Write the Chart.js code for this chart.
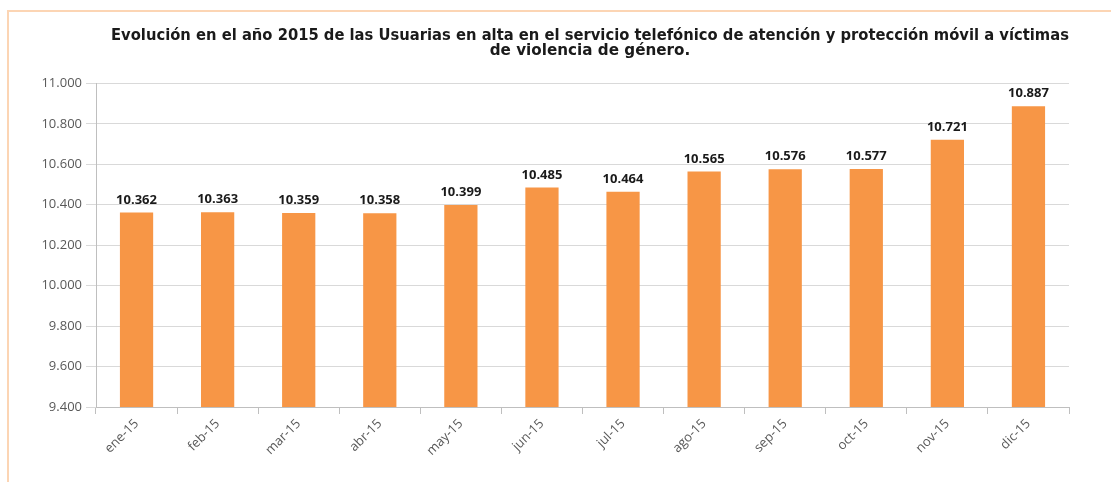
<!DOCTYPE html>
<html>
<head>
<meta charset="utf-8">
<script src="https://cdn.jsdelivr.net/npm/chart.js@4/dist/chart.umd.min.js"></script>
<style>
html,body{margin:0;padding:0;background:#fff;}
#wrap{position:relative;width:1111px;height:482px;overflow:hidden;}
#frame{position:absolute;left:7px;top:10px;width:1200px;height:600px;border-left:2px solid #fcd5b4;border-top:2px solid #fcd5b4;}
canvas{position:absolute;left:0;top:0;}
</style>
</head>
<body>
<div id="wrap">
<div id="frame"></div>
<canvas id="c" width="1111" height="482"></canvas>
</div>
<script>
const categories = ['ene-15','feb-15','mar-15','abr-15','may-15','jun-15','jul-15','ago-15','sep-15','oct-15','nov-15','dic-15'];
const usuarias = [10362,10363,10359,10358,10399,10485,10464,10565,10576,10577,10721,10887];
const titleLines = ['Evolución en el año 2015 de las Usuarias en alta en el servicio telefónico de atención y protección móvil a víctimas','de violencia de género.'];
const yMin = 9400, yMax = 11000, yStep = 200;

function fmt(v){
  const s = Math.round(v).toString();
  return s.replace(/\B(?=(\d{3})+(?!\d))/g, '.');
}

const FONT = "'Open Sans', 'DejaVu Sans', sans-serif";
const TITLE_FONT = "'DejaVu Sans', sans-serif";

const valueLabels = {
  id: 'valueLabels',
  afterLayout(chart){
    if (chart.titleBlock) { chart.titleBlock.left += 15; }
  },
  afterDatasetsDraw(chart){
    const ctx = chart.ctx;
    const meta = chart.getDatasetMeta(0);
    ctx.save();
    ctx.font = "bold 13px " + FONT;
    ctx.fillStyle = '#1a1a1a';
    ctx.textAlign = 'center';
    ctx.textBaseline = 'bottom';
    meta.data.forEach((bar, i) => {
      ctx.fillText(fmt(chart.data.datasets[0].data[i]), bar.x, bar.y - 6);
    });
    ctx.restore();
  }
};

new Chart(document.getElementById('c'), {
  type: 'bar',
  data: {
    labels: categories,
    datasets: [{
      data: usuarias,
      backgroundColor: '#f79646',
      borderWidth: 0,
      barPercentage: 0.41,
      categoryPercentage: 1.0
    }]
  },
  options: {
    responsive: false,
    animation: false,
    layout: { padding: { left: 0, right: 42, top: 0, bottom: 0 } },
    plugins: {
      legend: { display: false },
      tooltip: { enabled: false },
      title: {
        display: true,
        text: titleLines,
        fullSize: false,
        color: '#1a1a1a',
        font: { family: TITLE_FONT, size: 15.2, weight: 'bold', lineHeight: 1.0 },
        padding: { top: 28, bottom: 25 }
      }
    },
    scales: {
      x: {
        offset: true,
        grid: { display: true, drawOnChartArea: false, offset: true, tickLength: 7, color: '#bfbfbf' },
        border: { color: '#bfbfbf' },
        ticks: { color: '#595959', font: { family: FONT, size: 13 }, maxRotation: 45, minRotation: 45, padding: 2 },
        afterFit(scale){ scale.height = 75; }
      },
      y: {
        min: yMin, max: yMax,
        grid: { color: '#d9d9d9', tickLength: 10 },
        border: { color: '#bfbfbf' },
        ticks: { stepSize: yStep, color: '#595959', font: { family: FONT, size: 13 }, padding: 4, callback: v => fmt(v) },
        afterFit(scale){ scale.width = 96; }
      }
    }
  },
  plugins: [valueLabels]
});
</script>
</body>
</html>
